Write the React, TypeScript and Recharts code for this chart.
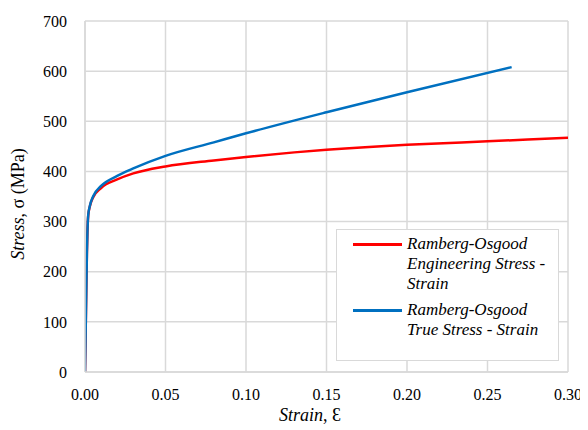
import React from "react";
import { LineChart, Line, XAxis, YAxis, CartesianGrid, Legend } from "recharts";

const engStrain = [0, 0.0006, 0.0012, 0.0015, 0.002, 0.003, 0.005, 0.01, 0.02, 0.03, 0.05, 0.08, 0.1, 0.13, 0.15, 0.2, 0.25, 0.3];
const engStress = [0, 120, 240, 278, 312, 330, 348, 367, 384, 396, 410, 422, 429, 438, 443, 453, 460, 467];
const trueStrain = [0, 0.0006, 0.0012, 0.0015, 0.002, 0.003, 0.005, 0.01, 0.02, 0.03, 0.05, 0.08, 0.1, 0.15, 0.2, 0.265];
const trueStress = [0, 120, 240, 278, 313, 331, 350, 371, 391, 406, 431, 458, 476, 518, 558, 608];
const xTicks = [0, 0.05, 0.1, 0.15, 0.2, 0.25, 0.3];
const yTicks = [0, 100, 200, 300, 400, 500, 600, 700];
const seriesNames = ["Ramberg-Osgood Engineering Stress - Strain", "Ramberg-Osgood True Stress - Strain"];

const engData = engStrain.map((x, i) => ({ x, y: engStress[i] }));
const trueData = trueStrain.map((x, i) => ({ x, y: trueStress[i] }));

const FONT = "Liberation Serif, Tinos, Times New Roman, DejaVu Serif, Noto Serif, serif";
const RED = "#FF0000";
const BLUE = "#0070C0";
const GRID = "#d9d9d9";

const LegendBox = () => (
  <div
    style={{
      width: 223,
      height: 132,
      boxSizing: "border-box",
      border: `1.5px solid ${GRID}`,
      background: "#fff",
      fontFamily: FONT,
      fontStyle: "italic",
      fontSize: 17,
      lineHeight: "20px",
      color: "#000",
      padding: "4px 0 0 0",
    }}
  >
    {[
      { color: RED, lines: ["Ramberg-Osgood", "Engineering Stress -", "Strain"] },
      { color: BLUE, lines: ["Ramberg-Osgood", "True Stress - Strain"] },
    ].map((it, k) => (
      <div key={k} style={{ display: "flex", alignItems: "flex-start", marginBottom: 6 }}>
        <div style={{ width: 49, height: 2.5, background: it.color, marginLeft: 16, marginTop: 9, marginRight: 5, flexShrink: 0 }} />
        <div>
          {it.lines.map((l, j) => (
            <div key={j}>{l}</div>
          ))}
        </div>
      </div>
    ))}
  </div>
);

export default function App() {
  return (
    <LineChart
      width={580}
      height={422}
      margin={{ top: 13, right: 20, bottom: 0, left: 27 }}
      style={{ fontFamily: FONT }}
    >
      <CartesianGrid stroke={GRID} strokeWidth={1.5} />
      <XAxis
        type="number"
        dataKey="x"
        domain={[0, 0.3]}
        ticks={xTicks}
        tickFormatter={(v: number) => v.toFixed(2)}
        tickLine={false}
        axisLine={{ stroke: GRID, strokeWidth: 1.5 }}
        tick={{ fill: "#000", fontSize: 16, fontFamily: FONT }}
        tickSize={6}
        tickMargin={11}
        height={58}
        allowDataOverflow
        label={{
          content: () => (
            <text x={302} y={407} textAnchor="middle" dominantBaseline="central" fontFamily={FONT} fontSize={18} fill="#000">
              <tspan fontStyle="italic">Strain</tspan>
              <tspan>, Ɛ</tspan>
            </text>
          ),
        }}
      />
      <YAxis
        type="number"
        domain={[0, 700]}
        ticks={yTicks}
        tickLine={false}
        axisLine={{ stroke: GRID, strokeWidth: 1.5 }}
        tick={{ fill: "#000", fontSize: 16, fontFamily: FONT }}
        tickSize={6}
        tickMargin={12}
        width={50}
        label={{
          content: () => (
            <text
              transform="rotate(-90)"
              x={-196}
              y={10}
              textAnchor="middle"
              dominantBaseline="central"
              fontFamily={FONT}
              fontSize={18}
              fill="#000"
            >
              <tspan fontStyle="italic">Stress</tspan>
              <tspan>, σ (MPa)</tspan>
            </text>
          ),
        }}
      />
      <Legend
        layout="vertical"
        align="center"
        verticalAlign="middle"
        wrapperStyle={{ top: 221, left: 328, width: 223, height: 132 }}
        content={() => <LegendBox />}
      />
      <Line
        data={engData}
        dataKey="y"
        name={seriesNames[0]}
        stroke={RED}
        strokeWidth={2.5}
        dot={false}
        activeDot={false}
        type="monotone"
        isAnimationActive={false}
      />
      <Line
        data={trueData}
        dataKey="y"
        name={seriesNames[1]}
        stroke={BLUE}
        strokeWidth={2.5}
        dot={false}
        activeDot={false}
        type="monotone"
        isAnimationActive={false}
      />
    </LineChart>
  );
}
